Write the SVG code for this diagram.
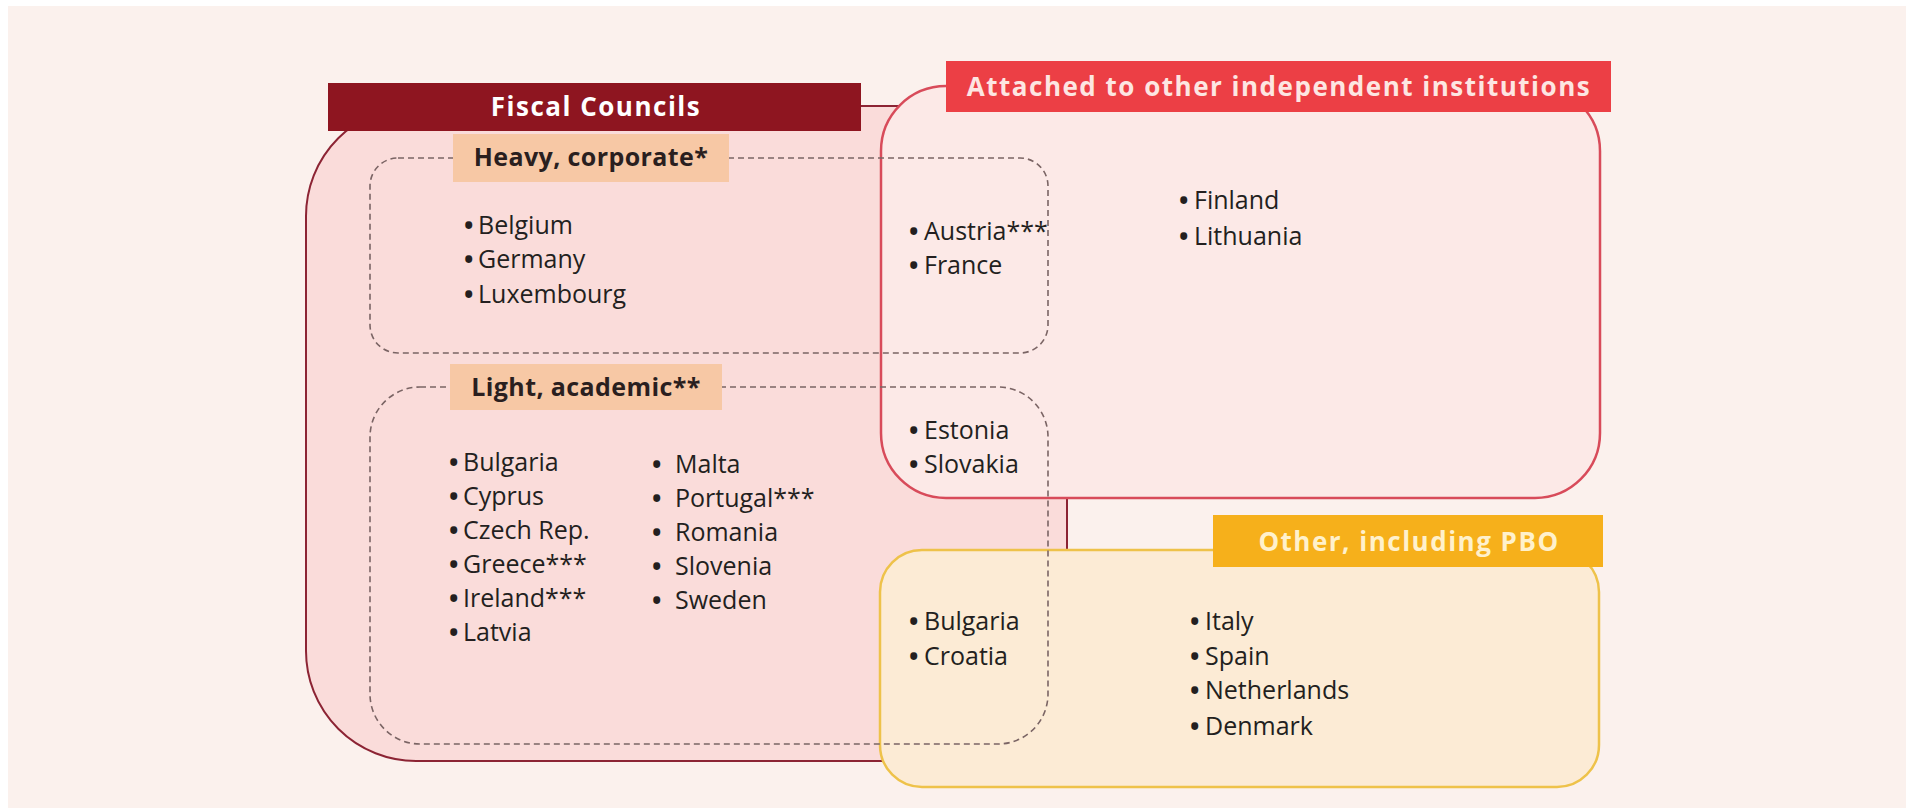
<svg xmlns="http://www.w3.org/2000/svg" width="1906" height="808" viewBox="0 0 1906 808">
<style>
.bar{font-family:"Open Sans","Liberation Sans",sans-serif;font-weight:700;font-size:26px;letter-spacing:1.5px;text-anchor:middle}
.lab{font-family:"Open Sans","Liberation Sans",sans-serif;font-weight:700;font-size:25px;letter-spacing:0.4px;fill:#2a1f1f;text-anchor:middle}
.it{font-family:"Open Sans","Liberation Sans",sans-serif;font-size:25px;fill:#231f20}
.b{font-weight:700}
.dash{fill:none;stroke:#7a6464;stroke-width:1.6;stroke-dasharray:6 4}
</style>
<rect x="0" y="0" width="1906" height="808" fill="#ffffff"/>
<rect x="8" y="6" width="1898" height="802" fill="#fbf1ed"/>

<g id="fiscal-councils">
<rect x="306" y="106" width="761" height="655" rx="110" ry="110" fill="#fadcda" stroke="#8c2434" stroke-width="2"/>
</g>

<g id="attached">
<rect x="881" y="86" width="719" height="412" rx="65" ry="65" fill="#fce9e7" stroke="#d84b5a" stroke-width="2.5"/>
<rect x="946" y="61" width="665" height="51" fill="#ec3f45"/>
<text class="bar" x="1279" y="96" fill="#fde6e2">Attached to other independent institutions</text>
<text class="it" x="909" y="240"><tspan class="b">•</tspan><tspan x="924">Austria***</tspan></text>
<text class="it" x="909" y="274"><tspan class="b">•</tspan><tspan x="924">France</tspan></text>
<text class="it" x="1179" y="209"><tspan class="b">•</tspan><tspan x="1194">Finland</tspan></text>
<text class="it" x="1179" y="245"><tspan class="b">•</tspan><tspan x="1194">Lithuania</tspan></text>
<text class="it" x="909" y="439"><tspan class="b">•</tspan><tspan x="924">Estonia</tspan></text>
<text class="it" x="909" y="473"><tspan class="b">•</tspan><tspan x="924">Slovakia</tspan></text>
</g>

<g id="other">
<rect x="880" y="550" width="719" height="237" rx="42" ry="42" fill="#fcebd5" stroke="#eec24a" stroke-width="2.5"/>
<rect x="1213" y="515" width="390" height="52" fill="#f6b01b"/>
<text class="bar" x="1409" y="551" fill="#fff1cc">Other, including PBO</text>
<text class="it" x="909" y="630"><tspan class="b">•</tspan><tspan x="924">Bulgaria</tspan></text>
<text class="it" x="909" y="665"><tspan class="b">•</tspan><tspan x="924">Croatia</tspan></text>
<text class="it" x="1190" y="630"><tspan class="b">•</tspan><tspan x="1205">Italy</tspan></text>
<text class="it" x="1190" y="665"><tspan class="b">•</tspan><tspan x="1205">Spain</tspan></text>
<text class="it" x="1190" y="699"><tspan class="b">•</tspan><tspan x="1205">Netherlands</tspan></text>
<text class="it" x="1190" y="735"><tspan class="b">•</tspan><tspan x="1205">Denmark</tspan></text>
</g>

<g id="heavy-corporate">
<rect class="dash" x="370" y="158" width="678" height="195" rx="28" ry="28"/>
<rect x="453" y="134" width="276" height="48" fill="#f7c8a5"/>
<text class="lab" x="591" y="166">Heavy, corporate*</text>
<text class="it" x="464" y="234"><tspan class="b">•</tspan><tspan x="478">Belgium</tspan></text>
<text class="it" x="464" y="268"><tspan class="b">•</tspan><tspan x="478">Germany</tspan></text>
<text class="it" x="464" y="303"><tspan class="b">•</tspan><tspan x="478">Luxembourg</tspan></text>
</g>

<g id="light-academic">
<rect class="dash" x="370" y="387" width="678" height="357" rx="50" ry="50"/>
<rect x="450" y="364" width="272" height="46" fill="#f7c8a5"/>
<text class="lab" x="586" y="396">Light, academic**</text>
<text class="it" x="449" y="471"><tspan class="b">•</tspan><tspan x="463">Bulgaria</tspan></text>
<text class="it" x="449" y="505"><tspan class="b">•</tspan><tspan x="463">Cyprus</tspan></text>
<text class="it" x="449" y="539"><tspan class="b">•</tspan><tspan x="463">Czech Rep.</tspan></text>
<text class="it" x="449" y="573"><tspan class="b">•</tspan><tspan x="463">Greece***</tspan></text>
<text class="it" x="449" y="607"><tspan class="b">•</tspan><tspan x="463">Ireland***</tspan></text>
<text class="it" x="449" y="641"><tspan class="b">•</tspan><tspan x="463">Latvia</tspan></text>
<text class="it" x="652" y="473"><tspan class="b">•</tspan><tspan x="675">Malta</tspan></text>
<text class="it" x="652" y="507"><tspan class="b">•</tspan><tspan x="675">Portugal***</tspan></text>
<text class="it" x="652" y="541"><tspan class="b">•</tspan><tspan x="675">Romania</tspan></text>
<text class="it" x="652" y="575"><tspan class="b">•</tspan><tspan x="675">Slovenia</tspan></text>
<text class="it" x="652" y="609"><tspan class="b">•</tspan><tspan x="675">Sweden</tspan></text>
</g>

<g id="fiscal-title">
<rect x="328" y="83" width="533" height="48" fill="#8e1520"/>
<text class="bar" x="596" y="116" fill="#ffffff">Fiscal Councils</text>
</g>
<g id="connectors"></g>
</svg>
